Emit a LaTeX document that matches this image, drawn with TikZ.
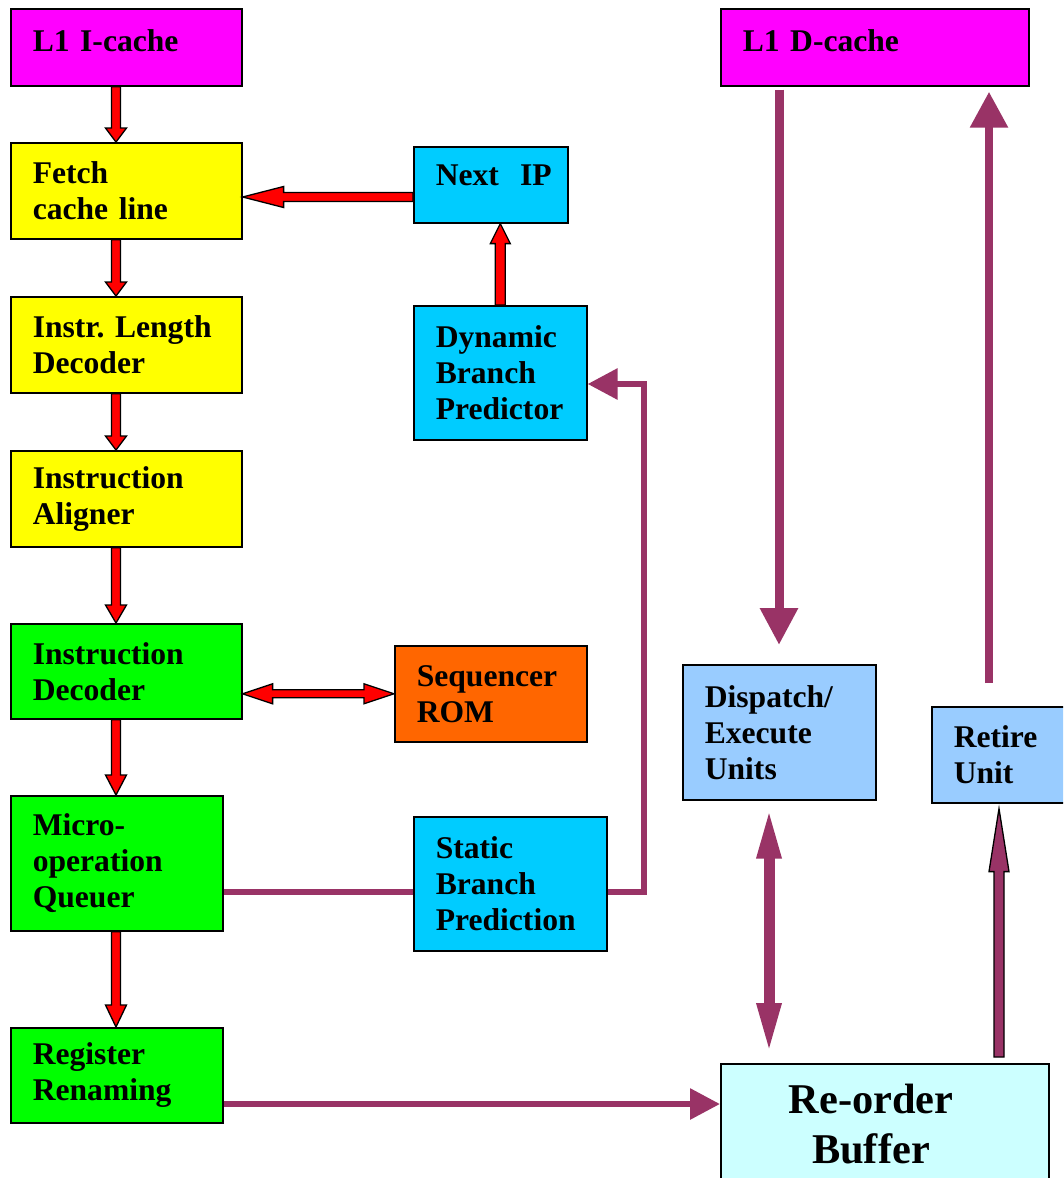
\documentclass[tikz,border=0pt]{standalone}
\usepackage{fontspec}
\setmainfont{Liberation Serif}
\usetikzlibrary{calc,arrows.meta}

\definecolor{cmag}{HTML}{FF00FF}
\definecolor{cyel}{HTML}{FFFF00}
\definecolor{cgrn}{HTML}{00FF00}
\definecolor{ccyan}{HTML}{00CCFF}
\definecolor{corange}{HTML}{FF6600}
\definecolor{clblue}{HTML}{99CCFF}
\definecolor{clcyan}{HTML}{CCFFFF}
\definecolor{cwine}{HTML}{993366}

% vertical block arrow: style, tail, tip, shaft half width, head half width, head length
\newcommand\vblock[6]{%
  \path[#1] let \p1=#2, \p2=#3, \n1={(\y2-\y1)/abs(\y2-\y1)} in
    (\x1-#4,\y1) -- (\x1-#4,{\y2-(\n1)*#6}) -- (\x1-#5,{\y2-(\n1)*#6}) -- (\x1,\y2)
    -- (\x1+#5,{\y2-(\n1)*#6}) -- (\x1+#4,{\y2-(\n1)*#6}) -- (\x1+#4,\y1) -- cycle;}
% horizontal block arrow
\newcommand\hblock[6]{%
  \path[#1] let \p1=#2, \p2=#3, \n1={(\x2-\x1)/abs(\x2-\x1)} in
    (\x1,\y1-#4) -- ({\x2-(\n1)*#6},\y1-#4) -- ({\x2-(\n1)*#6},\y1-#5) -- (\x2,\y1)
    -- ({\x2-(\n1)*#6},\y1+#5) -- ({\x2-(\n1)*#6},\y1+#4) -- (\x1,\y1+#4) -- cycle;}
% horizontal double-headed block arrow (left point, right point)
\newcommand\hdblock[6]{%
  \path[#1] let \p1=#2, \p2=#3 in
    (\x1,\y1) -- (\x1+#6,\y1+#5) -- (\x1+#6,\y1+#4) -- (\x2-#6,\y1+#4) -- (\x2-#6,\y1+#5)
    -- (\x2,\y1) -- (\x2-#6,\y1-#5) -- (\x2-#6,\y1-#4) -- (\x1+#6,\y1-#4) -- (\x1+#6,\y1-#5) -- cycle;}

\newcommand\boxfont{\fontsize{31.6}{36}\selectfont\bfseries}
\newcommand\robfont{\fontsize{42.4}{50}\selectfont\bfseries}

\tikzset{
  box/.style={draw=black, line width=1.6pt, align=left, inner xsep=22pt, inner ysep=0pt,
    anchor=north west, font=\boxfont},
  redarrow/.style={draw=black, fill=red, line width=1.3pt, line join=miter},
  winearrow/.style={draw=black, fill=cwine, line width=1.3pt, line join=miter},
  wine/.style={draw=cwine, line width=6pt, line join=miter},
}

\begin{document}
\hyphenpenalty=10000
\exhyphenpenalty=10000
\frenchspacing
\begin{tikzpicture}[x=1pt, y=-1pt]
\useasboundingbox (0,0) rectangle (1063,1178);
\clip (0,0) rectangle (1063,1178);
\fill[white] (0,0) rectangle (1063,1178);

% left pipeline column
\node[box, fill=cmag, text width=187pt, minimum height=77pt, text depth=14pt] (icache) at (10,8) {L1 I-cache};
\node[box, fill=cyel, text width=187pt, minimum height=96pt] (fetch) at (10,142) {Fetch\\cache line};
\node[box, fill=cyel, text width=187pt, minimum height=96pt] (ild) at (10,296) {Instr. Length\\Decoder};
\node[box, fill=cyel, text width=187pt, minimum height=96pt] (aligner) at (10,450) {Instruction\\Aligner};
\node[box, fill=cgrn, text width=187pt, minimum height=95pt] (decoder) at (10,623) {Instruction\\Decoder};
\node[box, fill=cgrn, text width=168pt, minimum height=135pt] (queuer) at (10,795) {Micro-\\operation\\Queuer};
\node[box, fill=cgrn, text width=168pt, minimum height=95pt] (rename) at (10,1027) {Register\\Renaming};

% branch prediction and sequencer
\node[box, fill=ccyan, text width=110pt, minimum height=76pt, text depth=19pt] (nextip) at (413,146) {Next~~IP};
\node[box, fill=ccyan, text width=129pt, minimum height=134pt] (dynamic) at (413,305) {Dynamic\\Branch\\Predictor};
\node[box, fill=corange, text width=148pt, minimum height=96pt] (rom) at (394,645) {Sequencer\\ROM};
\node[box, fill=ccyan, text width=149pt, minimum height=134pt] (static) at (413,816) {Static\\Branch\\Prediction};

% back end
\node[box, fill=cmag, text width=264pt, minimum height=77pt, text depth=14pt] (dcache) at (720,8) {L1 D-cache};
\node[box, fill=clblue, text width=149pt, minimum height=135pt] (dispatch) at (682,664) {Dispatch/\\Execute\\Units};
\node[box, fill=clblue, text width=91pt, minimum height=96pt] (retire) at (931,706) {Retire\\Unit};
\node[draw=black, line width=1.6pt, fill=clcyan, minimum width=328pt, minimum height=124pt,
      inner sep=0pt, anchor=north west] (rob) at (720,1063) {};
\node[font=\robfont, align=center, inner sep=0pt] (robtext) at (871,1124) {Re-order\\Buffer};

% reference lines for connectors
\coordinate (lc) at (116,0);
\coordinate (ny) at (0,197);
\coordinate (sy) at (0,892);
\coordinate (dy) at (0,384);
\coordinate (vx) at (644,0);
\coordinate (ry) at (0,1104);
\coordinate (dx) at (779,0);
\coordinate (rx) at (989,0);
\coordinate (ex) at (769,0);
\coordinate (fx) at (999,0);

% red block arrows of the front end
\vblock{redarrow}{(icache.south -| lc)}{(fetch.north -| lc)}{4.5pt}{10.5pt}{14pt}
\vblock{redarrow}{(fetch.south -| lc)}{(ild.north -| lc)}{4.5pt}{10.5pt}{14pt}
\vblock{redarrow}{(ild.south -| lc)}{(aligner.north -| lc)}{4.5pt}{10.5pt}{14pt}
\vblock{redarrow}{(aligner.south -| lc)}{(decoder.north -| lc)}{4.5pt}{10.5pt}{18pt}
\vblock{redarrow}{(decoder.south -| lc)}{(queuer.north -| lc)}{4.5pt}{10.5pt}{20pt}
\vblock{redarrow}{(queuer.south -| lc)}{(rename.north -| lc)}{4.5pt}{10.5pt}{22pt}
\hblock{redarrow}{(nextip.west |- ny)}{(fetch.east |- ny)}{4.5pt}{10.5pt}{41pt}
\vblock{redarrow}{(dynamic.north)}{(nextip.south -| dynamic.north)}{5pt}{10pt}{20pt}
\hdblock{redarrow}{(decoder.east |- rom.west)}{(rom.west)}{4pt}{10pt}{30pt}

% wine connectors
\draw[wine] (queuer.east |- sy) -- (static.west |- sy);
\draw[wine, -{Triangle[length=30pt,width=30pt]}]
  (static.east |- sy) -- (sy -| vx) -- (dy -| vx) -- (dynamic.east |- dy);
\draw[wine, -{Triangle[length=30pt,width=30pt]}] (rename.east |- ry) -- (rob.west |- ry);
\draw[wine, line width=9pt, -{Triangle[length=37pt,width=36pt]}]
  ($(dcache.south -| dx)+(0,3)$) -- ($(dispatch.north -| dx)+(0,-19)$);
\draw[wine, line width=8.5pt, -{Triangle[length=36pt,width=36pt]}]
  ($(retire.north -| rx)+(0,-23)$) -- ($(dcache.south -| rx)+(0,5)$);
\draw[wine, line width=11pt, {Triangle[length=52pt,width=22pt]}-{Triangle[length=52pt,width=22pt]}]
  ($(dispatch.south -| ex)+(0,6)$) -- ($(rob.north -| ex)+(0,-8)$);
\vblock{winearrow}{($(rob.north -| fx)+(0,-6)$)}{($(retire.south -| fx)+(0,5)$)}{5pt}{10pt}{63pt}
\end{tikzpicture}
\end{document}
